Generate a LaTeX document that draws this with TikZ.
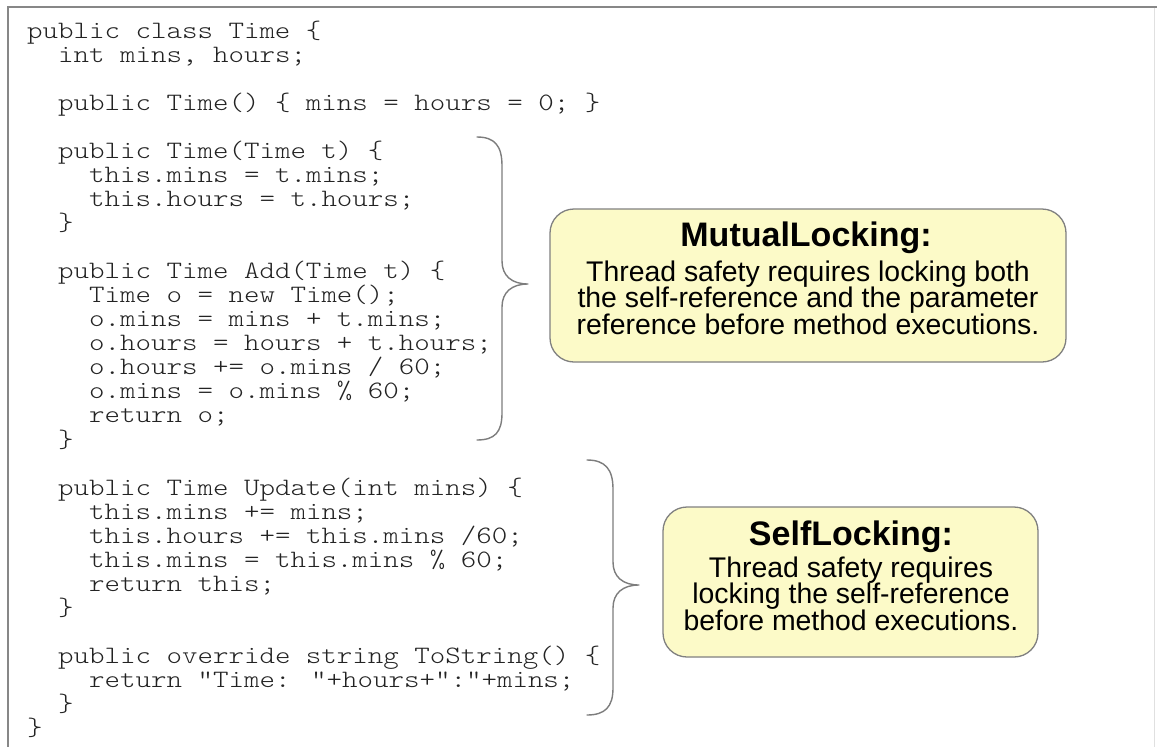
\documentclass[tikz,border=0pt]{standalone}
\usepackage{fontspec}
\newfontfamily\codefont[FakeStretch=1.18]{lmmonolt10-regular.otf}
\newfontfamily\notefont{Liberation Sans}
\definecolor{notefill}{RGB}{252,250,200}
\definecolor{noteedge}{RGB}{128,128,128}
\definecolor{bracecol}{RGB}{125,125,125}
\definecolor{framecol}{RGB}{135,135,135}
\definecolor{codecol}{RGB}{35,35,35}

\tikzset{
  codeline/.style={anchor=base west, inner sep=0pt, text=codecol,
    font=\codefont\fontsize{25}{24}\selectfont},
  notebox/.style={draw=noteedge, fill=notefill, line width=1.3pt,
    rounded corners=24pt},
  notetitle/.style={anchor=base, inner sep=0pt,
    font=\notefont\bfseries\fontsize{34}{36}\selectfont},
  notebody/.style={anchor=base, inner sep=0pt,
    font=\notefont\fontsize{28.4}{30}\selectfont},
  bracepath/.style={draw=bracecol, line width=1.4pt, line cap=round, line join=round},
}

% one line of source: row, indent column, text
\newcommand\cl[3]{\node[codeline] (c#1) at ({27+15.5*#2},{38.5+24.03*#1}) {#3};}

\begin{document}
\begin{tikzpicture}[x=1pt,y=-1pt]
\useasboundingbox (0,0) rectangle (1157,747);
\fill[white] (0,0) rectangle (1157,747);

% page frame
\draw[black!12, line width=1pt] (1154,7) -- (1154,747);
\draw[framecol, line width=2pt] (8,747) -- (8,7) -- (1157,7);

% source listing
\cl{0}{0}{public class Time \{}
\cl{1}{2}{int mins, hours;}
\cl{3}{2}{public Time() \{ mins = hours = 0; \}}
\cl{5}{2}{public Time(Time t) \{}
\cl{6}{4}{this.mins = t.mins;}
\cl{7}{4}{this.hours = t.hours;}
\cl{8}{2}{\}}
\cl{10}{2}{public Time Add(Time t) \{}
\cl{11}{4}{Time o = new Time();}
\cl{12}{4}{o.mins = mins + t.mins;}
\cl{13}{4}{o.hours = hours + t.hours;}
\cl{14}{4}{o.hours += o.mins / 60;}
\cl{15}{4}{o.mins = o.mins \% 60;}
\cl{16}{4}{return o;}
\cl{17}{2}{\}}
\cl{19}{2}{public Time Update(int mins) \{}
\cl{20}{4}{this.mins += mins;}
\cl{21}{4}{this.hours += this.mins /60;}
\cl{22}{4}{this.mins = this.mins \% 60;}
\cl{23}{4}{return this;}
\cl{24}{2}{\}}
\cl{26}{2}{public override string ToString() \{}
\cl{27}{4}{return "Time: "+hours+":"+mins;}
\cl{28}{2}{\}}
\cl{29}{0}{\}}

% braces grouping the methods
\draw[bracepath] (477,137) .. controls (495,137) and (502,146) .. (502,166)
  -- (502,261) .. controls (502,276) and (512,284) .. (528,284)
  .. controls (512,284) and (502,292) .. (502,307)
  -- (502,413) .. controls (502,432) and (495,440) .. (477,440);
\draw[bracepath] (587,460) .. controls (605,460) and (613,469) .. (613,489)
  -- (613,562) .. controls (613,577) and (623,585) .. (639,585)
  .. controls (623,585) and (613,593) .. (613,608)
  -- (613,688) .. controls (613,707) and (605,715) .. (587,715);

% MutualLocking note
\node[notebox, minimum width=516pt, minimum height=153pt] (mbox) at (808,285.5) {};
\node[notetitle] (m0) at (806,246.5) {MutualLocking:};
\node[notebody] (m1) at (808,281) {Thread safety requires locking both};
\node[notebody] (m2) at (808,307.5) {the self-reference and the parameter};
\node[notebody] (m3) at (808,334) {reference before method executions.};

% SelfLocking note
\node[notebox, minimum width=375pt, minimum height=150pt] (sbox) at (850.5,582) {};
\node[notetitle] (s0) at (851,545) {SelfLocking:};
\node[notebody] (s1) at (851,577) {Thread safety requires};
\node[notebody] (s2) at (851,603.5) {locking the self-reference};
\node[notebody] (s3) at (851,630) {before method executions.};
\end{tikzpicture}
\end{document}
